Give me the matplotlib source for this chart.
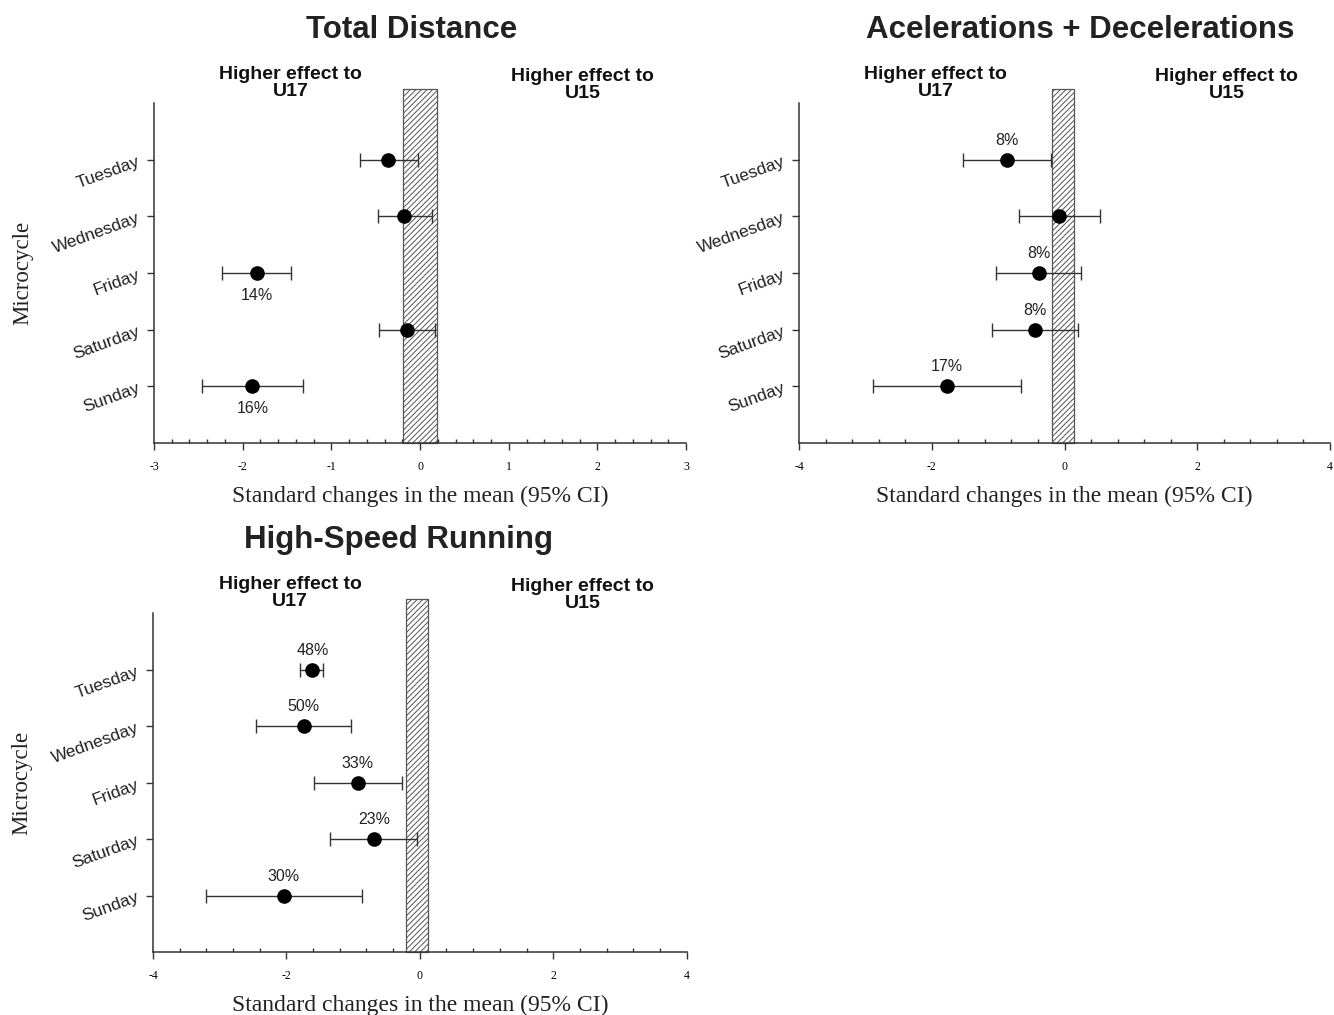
import matplotlib
matplotlib.use('Agg')
import matplotlib.pyplot as plt
from matplotlib.ticker import MultipleLocator

plt.rcParams['font.family'] = ['Liberation Sans', 'DejaVu Sans']
plt.rcParams['hatch.linewidth'] = 0.7
plt.rcParams['axes.unicode_minus'] = False

days = ['Tuesday', 'Wednesday', 'Friday', 'Saturday', 'Sunday']

td_mean = [-0.36, -0.18, -1.84, -0.15, -1.89]
td_low = [-0.68, -0.47, -2.23, -0.46, -2.46]
td_high = [-0.02, 0.13, -1.46, 0.17, -1.32]
td_pct = ['', '', '14%', '', '16%']
td_band = (-0.19, 0.19)

ad_mean = [-0.87, -0.08, -0.39, -0.45, -1.77]
ad_low = [-1.53, -0.69, -1.03, -1.09, -2.89]
ad_high = [-0.21, 0.53, 0.25, 0.20, -0.65]
ad_pct = ['8%', '', '8%', '8%', '17%']
ad_band = (-0.19, 0.14)

hsr_mean = [-1.61, -1.74, -0.93, -0.69, -2.04]
hsr_low = [-1.79, -2.45, -1.58, -1.35, -3.21]
hsr_high = [-1.45, -1.03, -0.26, -0.04, -0.87]
hsr_pct = ['48%', '50%', '33%', '23%', '30%']
hsr_band = (-0.20, 0.13)

serif = ['Liberation Serif', 'DejaVu Serif']


def panel(ax, title, mean, low, high, pct, band, xlim, major, minor, pct_below, ylabel, title_x):
    ypos = [5, 4, 3, 2, 1]
    # trivial-effect band, drawn a bit above the axis top
    ax.bar((band[0] + band[1]) / 2, 6.25, width=band[1] - band[0], bottom=0,
           facecolor='white', edgecolor='#555555', hatch='//////', linewidth=0.9,
           clip_on=False, zorder=1)
    xerr = [[m - l for m, l in zip(mean, low)], [h - m for m, h in zip(mean, high)]]
    ax.errorbar(mean, ypos, xerr=xerr, fmt='o', color='black', markersize=9.5,
                ecolor='#333333', elinewidth=1.0, capsize=5, capthick=1.0, zorder=3)
    for x, y, p in zip(mean, ypos, pct):
        if p:
            off = -16 if pct_below else 14
            ax.annotate(p, (x, y), xytext=(0, off), textcoords='offset points',
                        ha='center', va='center', fontsize=11.5, color='#222222')

    ax.set_xlim(*xlim)
    ax.set_ylim(0, 6)
    ax.set_yticks(ypos)
    ax.set_yticklabels(days, rotation=20, ha='right', rotation_mode='anchor',
                       fontsize=12.5, color='#222222')
    ax.xaxis.set_major_locator(MultipleLocator(major))
    ax.xaxis.set_minor_locator(MultipleLocator(minor))
    ax.tick_params(axis='x', which='major', direction='out', length=5, width=1,
                   labelsize=8.5, pad=8, color='#333333')
    ax.tick_params(axis='x', which='minor', direction='in', length=3, width=1, color='#333333')
    ax.tick_params(axis='y', direction='out', length=5, width=1, pad=6, color='#333333')
    for lbl in ax.get_xticklabels():
        lbl.set_fontfamily(serif)
    ax.spines['top'].set_visible(False)
    ax.spines['right'].set_visible(False)
    for s in ['left', 'bottom']:
        ax.spines[s].set_color('#333333')
        ax.spines[s].set_linewidth(1.1)

    ax.set_xlabel('Standard changes in the mean (95% CI)', fontsize=17,
                  fontfamily=serif, color='#222222')
    ax.xaxis.set_label_coords(0.5, -0.125)
    if ylabel:
        ax.set_ylabel('Microcycle', fontsize=16.5, fontfamily=serif, color='#222222')
        ax.yaxis.set_label_coords(-0.226, 0.5)

    ax.text(title_x, 1.215, title, transform=ax.transAxes, ha='center', va='center',
            fontsize=22.5, fontweight='bold', color='#222222')
    ax.text(0.257, 1.06, 'Higher effect to\nU17', transform=ax.transAxes, ha='center',
            va='center', fontsize=14, fontweight='bold', linespacing=1.0, color='#111111')
    ax.text(0.805, 1.052, 'Higher effect to\nU15', transform=ax.transAxes, ha='center',
            va='center', fontsize=14, fontweight='bold', linespacing=1.0, color='#111111')


fig = plt.figure(figsize=(13.34, 10.15), dpi=100)
ax1 = fig.add_axes([0.1154, 0.5635, 0.399, 0.335])
ax2 = fig.add_axes([0.599, 0.5635, 0.398, 0.335])
ax3 = fig.add_axes([0.1147, 0.062, 0.40, 0.334])

panel(ax1, 'Total Distance', td_mean, td_low, td_high, td_pct, td_band,
      (-3, 3), 1, 0.2, True, True, 0.485)
panel(ax2, 'Acelerations + Decelerations', ad_mean, ad_low, ad_high, ad_pct, ad_band,
      (-4, 4), 2, 0.4, False, False, 0.529)
panel(ax3, 'High-Speed Running', hsr_mean, hsr_low, hsr_high, hsr_pct, hsr_band,
      (-4, 4), 2, 0.4, False, True, 0.46)

fig.savefig('out.png', dpi=100)
